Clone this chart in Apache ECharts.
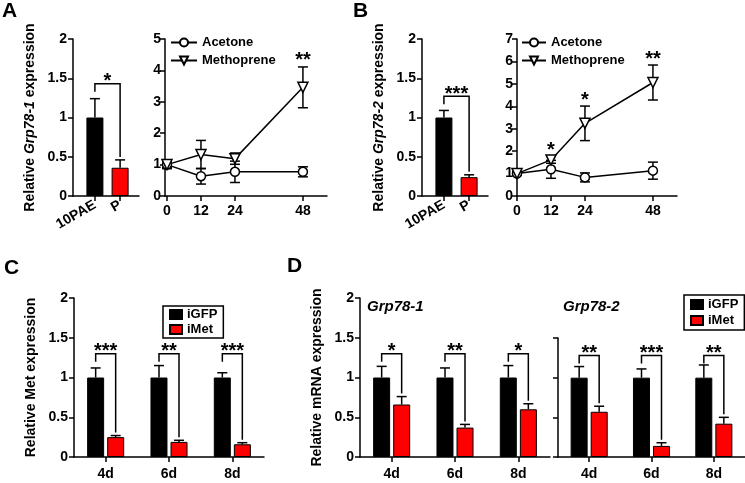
<!DOCTYPE html>
<html>
<head>
<meta charset="utf-8">
<script src="https://cdn.jsdelivr.net/npm/echarts@6/dist/echarts.min.js"></script>
<style>
  html, body { margin: 0; padding: 0; background: #fff; }
  #chart { width: 745px; height: 483px; }
</style>
</head>
<body>
<div id="chart"></div>
<script>
// ---------- 数据 ----------
const timePoints = [0, 12, 24, 48]
const stageCats = ['10PAE', 'P']
const dayCats = ['4d', '6d', '8d']

// A: Grp78-1
const aStage = [1.0, 0.36]
const aStageErr = [0.24, 0.1]
const aStageSig = ['*']
const aStageBracket = [1.43]
const aAcetone = [1.0, 0.63, 0.77, 0.77]
const aAcetoneErr = [0.13, 0.25, 0.34, 0.16]
const aMetho = [1.0, 1.32, 1.19, 3.46]
const aMethoErr = [0.1, 0.45, 0.18, 0.65]
const aTimeSig = ['', '', '', '**']

// B: Grp78-2
const bStage = [1.0, 0.24]
const bStageErr = [0.09, 0.03]
const bStageSig = ['***']
const bStageBracket = [1.27]
const bAcetone = [1.0, 1.19, 0.83, 1.13]
const bAcetoneErr = [0.05, 0.4, 0.2, 0.38]
const bMetho = [1.0, 1.61, 3.24, 5.06]
const bMethoErr = [0.08, 0.15, 0.77, 0.78]
const bTimeSig = ['', '*', '*', '**']

// C: Met
const cGFP = [1, 1, 1]
const cGFPErr = [0.12, 0.15, 0.06]
const cMet = [0.25, 0.19, 0.16]
const cMetErr = [0.02, 0.02, 0.02]
const cSig = ['***', '**', '***']
const cBracket = [1.3, 1.3, 1.3]

// D: Grp78-1 / Grp78-2 after iMet
const d1GFP = [1, 1, 1]
const d1GFPErr = [0.14, 0.12, 0.15]
const d1Met = [0.66, 0.37, 0.6]
const d1MetErr = [0.1, 0.04, 0.07]
const d1Sig = ['*', '**', '*']
const d1Bracket = [1.3, 1.3, 1.3]
const d2GFP = [1, 1, 1]
const d2GFPErr = [0.14, 0.11, 0.16]
const d2Met = [0.57, 0.14, 0.42]
const d2MetErr = [0.07, 0.04, 0.08]
const d2Sig = ['**', '***', '**']
const d2Bracket = [1.28, 1.28, 1.28]

// ---------- 样式 ----------
const FONT = '"Liberation Sans", Arial, sans-serif'
const RED = '#ff0000'
const BAR_W = 17
const PAIR_OFF = 10 // 组内两根柱子中心到类目中心的距离
const lineW = 1.5

const axisLine = { show: true, onZero: false, lineStyle: { color: '#000', width: lineW } }
const axisTick = { show: true, length: 5, lineStyle: { color: '#000', width: lineW } }
const axisLabel = { color: '#000', fontSize: 14, fontWeight: 'bold', fontFamily: FONT, margin: 6 }
const nameStyle = {
  color: '#000', fontSize: 14, fontWeight: 'bold', fontFamily: FONT,
  rich: { i: { color: '#000', fontSize: 14, fontWeight: 'bold', fontStyle: 'italic', fontFamily: FONT } }
}

const yAxis = (gi, max, interval, name, extra) => Object.assign({
  type: 'value', gridIndex: gi, min: 0, max, interval,
  axisLine, axisTick, axisLabel, splitLine: { show: false },
  name, nameLocation: 'middle', nameGap: 36, nameTextStyle: nameStyle
}, extra || {})

// 误差线 (只画上半) / 双向误差线
const renderErr = (both, cap, offFn) => (params, api) => {
  const i = params.dataIndex
  const x = api.value(0), v = api.value(1), e = api.value(2)
  const c = api.coord([x, v])
  const px = c[0] + offFn(i)
  const top = api.coord([x, v + e])[1]
  const bot = both ? api.coord([x, v - e])[1] : c[1]
  const st = { stroke: '#000', lineWidth: lineW }
  return {
    type: 'group',
    children: [
      { type: 'line', shape: { x1: px, y1: bot, x2: px, y2: top }, style: st },
      { type: 'line', shape: { x1: px - cap / 2, y1: top, x2: px + cap / 2, y2: top }, style: st },
      both ? { type: 'line', shape: { x1: px - cap / 2, y1: bot, x2: px + cap / 2, y2: bot }, style: st } : null
    ].filter(Boolean)
  }
}

// 显著性括号 + 星号
const renderBracket = (sig, offL, offR) => (params, api) => {
  const x0 = api.value(0), x1 = api.value(1)
  const yb = api.coord([x0, api.value(2)])[1]
  const xl = api.coord([x0, 0])[0] - offL
  const xr = api.coord([x1, 0])[0] + offR
  const yr = api.coord([x1, api.value(3)])[1] - 3
  return {
    type: 'group',
    children: [
      { type: 'polyline', shape: { points: [[xl, yb + 8], [xl, yb], [xr, yb], [xr, yr]] },
        style: { stroke: '#000', lineWidth: lineW, fill: null } },
      { type: 'text', style: { text: sig[params.dataIndex], x: (xl + xr) / 2, y: yb + 8,
        align: 'center', verticalAlign: 'bottom', font: 'bold 20px ' + FONT, fill: '#000' } }
    ]
  }
}

// 折线图上方星号
const renderStar = (sig) => (params, api) => {
  const c = api.coord([api.value(0), api.value(1)])
  return { type: 'text', style: { text: sig[params.dataIndex], x: c[0], y: c[1] + 4,
    align: 'center', verticalAlign: 'bottom', font: 'bold 20px ' + FONT, fill: '#000' } }
}

// A/B 柱状图系列
const stageSeries = (gi, vals, errs, sig, bracket) => [
  {
    type: 'bar', xAxisIndex: gi, yAxisIndex: gi, barWidth: BAR_W,
    data: vals.map((v, i) => ({ value: [i, v], itemStyle: { color: i ? RED : '#000' } })),
    itemStyle: { borderColor: '#000', borderWidth: 1 }, silent: true
  },
  {
    type: 'custom', xAxisIndex: gi, yAxisIndex: gi, z: 3,
    data: vals.map((v, i) => [i, v, errs[i]]),
    renderItem: renderErr(false, 10, () => 0)
  },
  {
    type: 'custom', xAxisIndex: gi, yAxisIndex: gi, z: 3,
    data: bracket.map(b => [0, 1, b, vals[1] + errs[1]]),
    renderItem: renderBracket(sig, 0, 0)
  }
]

// A/B 折线图系列
const timeSeries = (gi, ace, aceErr, met, metErr, sig) => [
  {
    type: 'custom', xAxisIndex: gi, yAxisIndex: gi, z: 1,
    data: timePoints.map((t, i) => [t, ace[i], aceErr[i]]),
    renderItem: renderErr(true, 10, () => 0)
  },
  {
    type: 'custom', xAxisIndex: gi, yAxisIndex: gi, z: 1,
    data: timePoints.map((t, i) => [t, met[i], metErr[i]]),
    renderItem: renderErr(true, 10, () => 0)
  },
  {
    type: 'line', name: 'Acetone', xAxisIndex: gi, yAxisIndex: gi, z: 3,
    data: timePoints.map((t, i) => [t, ace[i]]),
    symbol: 'circle', symbolSize: 9,
    itemStyle: { color: '#fff', borderColor: '#000', borderWidth: lineW },
    lineStyle: { color: '#000', width: lineW }
  },
  {
    type: 'line', name: 'Methoprene', xAxisIndex: gi, yAxisIndex: gi, z: 3,
    data: timePoints.map((t, i) => [t, met[i]]),
    symbol: 'triangle', symbolRotate: 180, symbolSize: 10,
    itemStyle: { color: '#fff', borderColor: '#000', borderWidth: lineW },
    lineStyle: { color: '#000', width: lineW }
  },
  {
    type: 'custom', xAxisIndex: gi, yAxisIndex: gi, z: 4,
    data: timePoints.map((t, i) => [t, met[i] + metErr[i]]),
    renderItem: renderStar(sig)
  }
]

// C/D 分组柱状图系列
const dayPairSeries = (gi, gfp, gfpErr, met, metErr, sig, bracket) => [
  {
    type: 'bar', name: 'iGFP', xAxisIndex: gi, yAxisIndex: gi, barWidth: BAR_W, barGap: '18%',
    data: gfp, itemStyle: { color: '#000', borderColor: '#000', borderWidth: 1 }, silent: true
  },
  {
    type: 'bar', name: 'iMet', xAxisIndex: gi, yAxisIndex: gi, barWidth: BAR_W, barGap: '18%',
    data: met, itemStyle: { color: RED, borderColor: '#000', borderWidth: 1 }, silent: true
  },
  {
    type: 'custom', xAxisIndex: gi, yAxisIndex: gi, z: 3,
    data: gfp.map((v, i) => [i, v, gfpErr[i]]),
    renderItem: renderErr(false, 10, () => -PAIR_OFF)
  },
  {
    type: 'custom', xAxisIndex: gi, yAxisIndex: gi, z: 3,
    data: met.map((v, i) => [i, v, metErr[i]]),
    renderItem: renderErr(false, 10, () => PAIR_OFF)
  },
  {
    type: 'custom', xAxisIndex: gi, yAxisIndex: gi, z: 3,
    data: bracket.map((b, i) => [i, i, b, met[i] + metErr[i]]),
    renderItem: renderBracket(sig, PAIR_OFF, PAIR_OFF)
  }
]

const stageXAxis = (gi) => ({
  type: 'value', gridIndex: gi, min: -0.87, max: 1.75,
  axisLine, splitLine: { show: false },
  axisTick: Object.assign({ customValues: [0, 1] }, axisTick),
  axisLabel: Object.assign({}, axisLabel, {
    customValues: [0, 1], rotate: 30, margin: 8, formatter: v => stageCats[v]
  })
})

const timeXAxis = (gi, min, max) => ({
  type: 'value', gridIndex: gi, min, max,
  axisLine, splitLine: { show: false },
  axisTick: Object.assign({ customValues: timePoints }, axisTick),
  axisLabel: Object.assign({}, axisLabel, { customValues: timePoints, margin: 8 })
})

const dayXAxis = (gi) => ({
  type: 'category', gridIndex: gi, data: dayCats,
  axisLine, axisTick: Object.assign({ alignWithLabel: true }, axisTick),
  axisLabel: Object.assign({}, axisLabel, { margin: 10 })
})

const legendText = { color: '#000', fontSize: 13, fontWeight: 'bold', fontFamily: FONT }

const myChart = echarts.init(document.querySelector('#chart'), null, { renderer: 'canvas' })
const option = {
  animation: false,
  backgroundColor: '#fff',
  grid: [
    { left: 73, top: 39, width: 66, height: 157 },
    { left: 165, top: 39, width: 162, height: 157 },
    { left: 422, top: 39, width: 66, height: 157 },
    { left: 517, top: 39, width: 160, height: 157 },
    { left: 74, top: 298, width: 190, height: 159 },
    { left: 360, top: 298, width: 190, height: 159 },
    { left: 558, top: 338, width: 187, height: 119 }
  ],
  xAxis: [
    stageXAxis(0),
    timeXAxis(1, -0.7, 56.5),
    stageXAxis(2),
    timeXAxis(3, 0, 56.5),
    dayXAxis(4),
    dayXAxis(5),
    dayXAxis(6)
  ],
  yAxis: [
    yAxis(0, 2, 0.5, 'Relative {i|Grp78-1} expression'),
    yAxis(1, 5, 1, '', { axisLabel: Object.assign({}, axisLabel, { margin: 4 }) }),
    yAxis(2, 2, 0.5, 'Relative {i|Grp78-2} expression'),
    yAxis(3, 7, 1, '', { axisLabel: Object.assign({}, axisLabel, { margin: 4 }) }),
    yAxis(4, 2, 0.5, 'Relative Met expression'),
    yAxis(5, 2, 0.5, 'Relative mRNA expression'),
    yAxis(6, 1.5, 0.5, '', { axisLabel: { show: false } })
  ],
  legend: [
    {
      data: ['Acetone', 'Methoprene'], orient: 'vertical', left: 165, top: 31,
      itemWidth: 26, itemHeight: 10, itemGap: 5, textStyle: legendText, selectedMode: false
    },
    {
      data: ['Acetone', 'Methoprene'], orient: 'vertical', left: 516, top: 31,
      itemWidth: 24, itemHeight: 10, itemGap: 5, textStyle: legendText, selectedMode: false
    },
    {
      data: ['iGFP', 'iMet'], orient: 'vertical', left: 163, top: 306, icon: 'rect',
      itemWidth: 12, itemHeight: 9, itemGap: 2, padding: [2, 6, 2, 6],
      borderColor: '#000', borderWidth: 1.5, textStyle: legendText, selectedMode: false
    },
    {
      data: ['iGFP', 'iMet'], orient: 'vertical', left: 684, top: 295, icon: 'rect',
      itemWidth: 12, itemHeight: 9, itemGap: 3, padding: [3, 6, 3, 6],
      borderColor: '#000', borderWidth: 1.5, textStyle: legendText, selectedMode: false
    }
  ],
  graphic: [
    { type: 'text', left: 2, top: 1, style: { text: 'A', font: 'bold 21px ' + FONT, fill: '#000' } },
    { type: 'text', left: 353, top: 1, style: { text: 'B', font: 'bold 21px ' + FONT, fill: '#000' } },
    { type: 'text', left: 4, top: 258, style: { text: 'C', font: 'bold 21px ' + FONT, fill: '#000' } },
    { type: 'text', left: 287, top: 256, style: { text: 'D', font: 'bold 21px ' + FONT, fill: '#000' } },
    { type: 'text', left: 367, top: 299, style: { text: 'Grp78-1', font: 'italic bold 15px ' + FONT, fill: '#000' } },
    { type: 'text', left: 563, top: 299, style: { text: 'Grp78-2', font: 'italic bold 15px ' + FONT, fill: '#000' } }
  ],
  series: [
    ...stageSeries(0, aStage, aStageErr, aStageSig, aStageBracket),
    ...timeSeries(1, aAcetone, aAcetoneErr, aMetho, aMethoErr, aTimeSig),
    ...stageSeries(2, bStage, bStageErr, bStageSig, bStageBracket),
    ...timeSeries(3, bAcetone, bAcetoneErr, bMetho, bMethoErr, bTimeSig),
    ...dayPairSeries(4, cGFP, cGFPErr, cMet, cMetErr, cSig, cBracket),
    ...dayPairSeries(5, d1GFP, d1GFPErr, d1Met, d1MetErr, d1Sig, d1Bracket),
    ...dayPairSeries(6, d2GFP, d2GFPErr, d2Met, d2MetErr, d2Sig, d2Bracket)
  ]
}
myChart.setOption(option)
</script>
</body>
</html>
